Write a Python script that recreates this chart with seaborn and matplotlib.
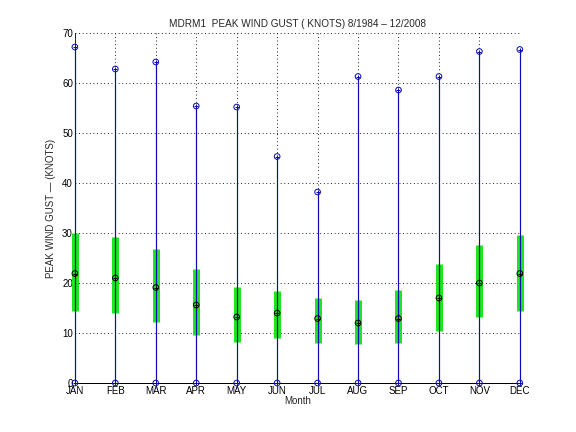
import matplotlib
matplotlib.use("Agg")
import matplotlib.pyplot as plt
import seaborn as sns
import pandas as pd
import numpy as np

months = ["JAN", "FEB", "MAR", "APR", "MAY", "JUN", "JUL", "AUG", "SEP", "OCT", "NOV", "DEC"]
month_num = [1, 2, 3, 4, 5, 6, 7, 8, 9, 10, 11, 12]
gust_max = [67.2, 62.8, 64.2, 55.4, 55.2, 45.3, 38.2, 61.3, 58.6, 61.3, 66.3, 66.7]
gust_min = [0, 0, 0, 0, 0, 0, 0, 0, 0, 0, 0, 0]
gust_mean = [21.9, 21.0, 19.1, 15.6, 13.2, 14.0, 12.9, 12.0, 12.9, 17.0, 20.0, 21.9]
std_low = [14.4, 14.0, 12.2, 9.6, 8.2, 9.0, 8.1, 7.9, 8.1, 10.5, 13.2, 14.4]
std_high = [30.0, 29.2, 26.8, 22.8, 19.2, 18.4, 17.0, 16.6, 18.6, 23.8, 27.6, 29.6]
yticks = [0, 10, 20, 30, 40, 50, 60, 70]

df = pd.DataFrame({"month": month_num, "max": gust_max, "min": gust_min,
                   "mean": gust_mean, "lo": std_low, "hi": std_high})

sns.set_style("white")
plt.rcParams["font.family"] = ["Liberation Sans", "DejaVu Sans"]
plt.rcParams["font.size"] = 9.8

fig = plt.figure(figsize=(8, 6), dpi=72)
ax = fig.add_axes([0.13, 0.1134, 0.7725, 0.8102])

blue = "#0c0cb4"
green = "#1ee61e"

# grid (dotted)
for y in yticks[1:]:
    ax.axhline(y, color="black", linestyle=(0, (1, 3)), linewidth=0.9, zorder=0)
for x in month_num:
    ax.axvline(x, color="black", linestyle=(0, (1, 3)), linewidth=0.9, zorder=0)

# std bars
ax.vlines(df["month"], df["lo"], df["hi"], color=green, linewidth=7, zorder=2, clip_on=False)
# min-max lines
ax.vlines(df["month"], df["min"], df["max"], color=blue, linewidth=1.2, zorder=3, clip_on=False)

# markers
for col, colr in [("max", blue), ("min", blue), ("mean", "black")]:
    sns.scatterplot(data=df, x="month", y=col, ax=ax, marker="o", s=32,
                    facecolor="none", edgecolor=colr, linewidth=1.0, zorder=5, clip_on=False)
    sns.scatterplot(data=df, x="month", y=col, ax=ax, marker="+", s=20,
                    color=colr, linewidth=1.0, zorder=5, clip_on=False)

ax.set_xlim(1, 12)
ax.set_ylim(0, 70)
ax.set_xticks(month_num)
ax.set_xticklabels(months)
ax.set_yticks(yticks)
ax.set_yticklabels([str(v) for v in yticks])
ax.tick_params(direction="in", length=4, width=0.8, colors="black", labelsize=9.8)
ax.tick_params(axis="x", pad=3)
ax.tick_params(axis="y", pad=2)

for s in ["top", "right"]:
    ax.spines[s].set_visible(False)
ax.spines["left"].set_color("black")
ax.spines["bottom"].set_color("black")
ax.spines["left"].set_linewidth(0.8)
ax.spines["bottom"].set_linewidth(1.0)
ax.spines["bottom"].set_zorder(4)

ax.set_xlabel("Month", fontsize=9.8, labelpad=0)
ax.set_ylabel("PEAK WIND GUST \u2014 (KNOTS)", fontsize=9.8, labelpad=6)
ax.set_title("MDRM1  PEAK WIND GUST ( KNOTS) 8/1984 \u2013 12/2008", fontsize=10, pad=6)

fig.savefig("out.png", dpi=72)
